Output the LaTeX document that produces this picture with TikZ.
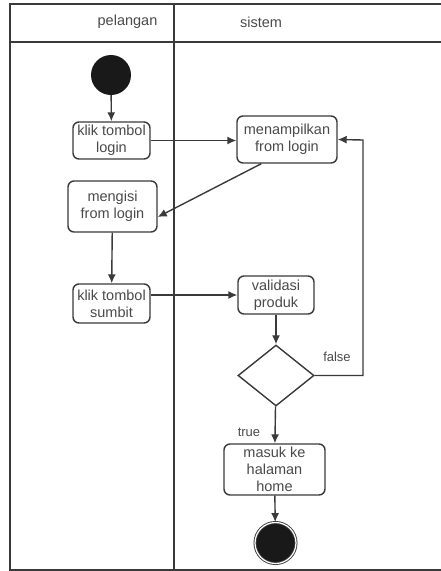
\documentclass[tikz,border=0pt]{standalone}
\usepackage{fontspec}
\setmainfont{Liberation Sans}
\usepackage{tikz}
\usetikzlibrary{shapes.geometric, positioning, arrows.meta}
\usepackage{xcolor}
\definecolor{lane}{HTML}{3A3A3A}
\definecolor{txt}{HTML}{4A4A4A}

\begin{document}
\begin{tikzpicture}[x=1pt, y=-1pt,
  actbox/.style={
    draw=lane, line width=1.4pt, rounded corners=6pt, fill=white,
    align=center, inner sep=0pt, text=txt,
    font=\fontsize{14.5}{17}\selectfont},
  decide/.style={draw=lane, line width=1.4pt, diamond, aspect=1.25,
    minimum width=76pt, minimum height=61pt, inner sep=0pt},
  startnode/.style={circle, fill=black!90, minimum size=40pt, inner sep=0pt},
  endnode/.style={circle, fill=black!90, draw=lane, line width=0.9pt,
    double=white, double distance=1.2pt, minimum size=41pt, inner sep=0pt},
  flow/.style={draw=lane, line width=1.4pt, -{Latex[length=9pt, width=8pt]}},
  lbl/.style={text=txt, font=\fontsize{13}{15}\selectfont},
  head/.style={text=txt, font=\fontsize{14.5}{17}\selectfont}]

\useasboundingbox (0,0) rectangle (441,571);

% --- swimlane frame ---
\draw[lane, line width=1.3pt] (441,4) -- (10,4) -- (10,570) -- (441,570);
\draw[lane, line width=1.3pt] (10,42) -- (441,42);
\draw[lane, line width=1.3pt] (174,4) -- (174,570);
\node[head] (lanea) at (127.5,22) {pelangan};
\node[head] (laneb) at (261,22) {sistem};

% --- pelangan lane ---
\node[startnode] (start) at (111,75) {};
\node[actbox, minimum width=77pt, minimum height=37pt] (klogin) at (111.5,140.5)
  {klik tombol\\login};
\node[actbox, minimum width=89pt, minimum height=51pt] (isi) at (112.5,206.5)
  {mengisi\\from login};
\node[actbox, minimum width=77pt, minimum height=39pt] (ksubmit) at (111.5,303.5)
  {klik tombol\\sumbit};

% --- sistem lane ---
\node[actbox, minimum width=100pt, minimum height=47pt] (tampil) at (287,139.5)
  {menampilkan\\from login};
\node[actbox, minimum width=76pt, minimum height=38pt] (valid) at (276,295)
  {validasi\\produk};
\node[decide] (cek) at (276,375.5) {};
\node[actbox, minimum width=101pt, minimum height=51pt] (home) at (274.5,469.5)
  {masuk ke\\halaman\\home};
\node[endnode] (stop) at (275.5,543) {};
\coordinate (back) at (363,140);

% --- flows ---
\draw[flow] (start) -- (klogin);
\draw[flow] (klogin.east) -- (tampil.west |- klogin.east);
\draw[flow] (tampil.south west) ++(25,0) -- (isi.east |- 0,217);
\draw[flow] (isi) -- (ksubmit);
\draw[flow] (ksubmit.east |- 0,295) -- (valid.west);
\draw[flow] (valid) -- (cek);
\draw[flow] (cek.east) -| (back) -- (tampil.east);
\draw[flow] (cek) -- (home);
\draw[flow] (home) -- (stop);

\node[lbl] (lfalse) at (337,357) {false};
\node[lbl] (ltrue) at (249,432) {true};
\end{tikzpicture}
\end{document}
